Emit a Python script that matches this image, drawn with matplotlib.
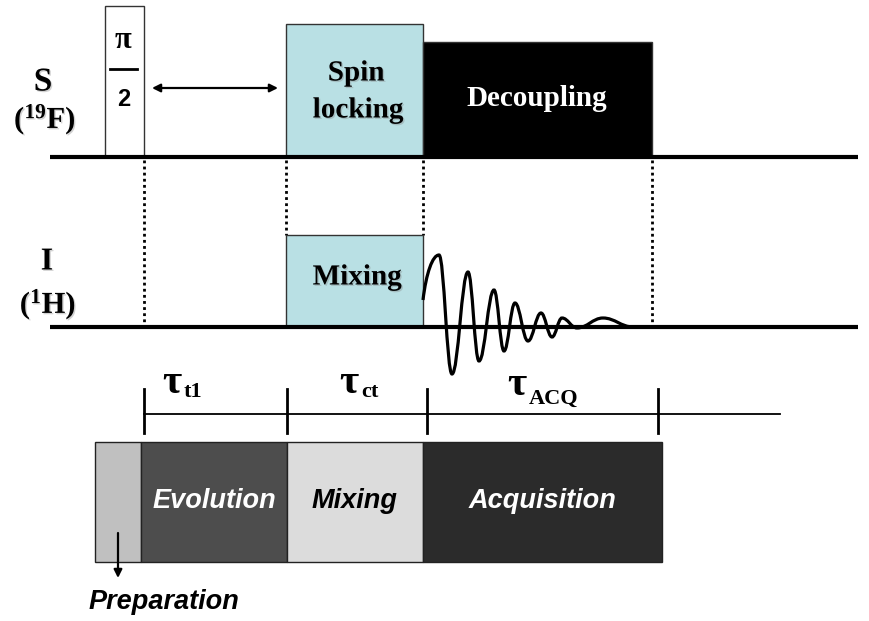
import matplotlib
matplotlib.use("Agg")
import matplotlib.pyplot as plt
import matplotlib.patheffects as pe
from matplotlib.path import Path
from matplotlib.patches import PathPatch

plt.rcParams["mathtext.fontset"] = "custom"
plt.rcParams["mathtext.rm"] = "Liberation Serif:bold"
plt.rcParams["mathtext.bf"] = "Liberation Serif:bold"
plt.rcParams["mathtext.it"] = "Liberation Serif:bold"

# channels
channels = ["S", "I"]
nuclei = ["($^{19}$F)", "($^{1}$H)"]
baseline_y = [157, 327]

# pulses on the S channel (pi/2, spin locking, decoupling)
pulse_start = [105, 286, 423]
pulse_end = [144, 423, 652]
pulse_top = [6, 24, 42]
pulse_color = ["white", "#b9e0e4", "black"]

# mixing pulse on the I channel
mix_start = 286
mix_end = 423
mix_top = 235

# FID extrema (x, y)
fid_x = [423, 439, 452, 468, 479, 494, 504, 515, 528, 541, 552, 562, 577, 603, 633]
fid_y = [300, 255, 374, 272, 361, 290, 351, 303, 341, 313, 337, 318, 328, 318, 327]

# dotted guide lines
guide_x = [144, 286, 423, 652]
guide_bottom = [325, 235, 235, 325]

# time axis
tick_x = [144, 287, 427, 658]
tau_subs = ["t1", "ct", "ACQ"]
tau_x = [162, 339, 507]
tau_base = [393, 393, 395]
sub_x = [184, 361, 529]
sub_base = [397, 397, 404]

# sequence periods
period_edges = [95, 141, 287, 423, 662]
period_names = ["", "Evolution", "Mixing", "Acquisition"]
period_colors = ["#c0c0c0", "#4d4d4d", "#dcdcdc", "#2b2b2b"]
period_text = ["black", "white", "black", "white"]

fig = plt.figure(figsize=(8.7, 6.21), dpi=100)
ax = fig.add_axes([0, 0, 1, 1])
ax.set_xlim(0, 870)
ax.set_ylim(621, 0)
ax.axis("off")

shadow = [pe.withSimplePatchShadow(offset=(1, -1), shadow_rgbFace="gray", alpha=0.35)]
serif = dict(family="Liberation Serif", weight="bold", color="black")
sans_it = dict(family="Liberation Sans", weight="bold", style="italic")

# baselines
for y in baseline_y:
    ax.plot([50, 858], [y, y], color="black", lw=3, solid_capstyle="butt", zorder=3)

# S pulses
for x0, x1, top, c in zip(pulse_start, pulse_end, pulse_top, pulse_color):
    ax.bar(x0, baseline_y[0] - top, width=x1 - x0, bottom=top, align="edge",
           color=c, edgecolor="#333333", lw=1, zorder=2)

# I mixing pulse
ax.bar(mix_start, baseline_y[1] - mix_top, width=mix_end - mix_start, bottom=mix_top,
       align="edge", color=pulse_color[1], edgecolor="#333333", lw=1, zorder=2)

# pulse texts
ax.text(123, 41, "π", ha="center", va="center", fontsize=22, **serif)
ax.plot([110, 137], [69, 69], color="black", lw=2)
ax.text(124, 100, "2", ha="center", va="center", fontsize=17,
        family="Liberation Sans", weight="bold")
ax.annotate("", xy=(278, 88), xytext=(152, 88),
            arrowprops=dict(arrowstyle="<|-|>", color="black", lw=1.6,
                            mutation_scale=12, shrinkA=0, shrinkB=0))
ax.text(356, 73, "Spin", ha="center", va="center", fontsize=21, path_effects=shadow, **serif)
ax.text(358, 110, "locking", ha="center", va="center", fontsize=21, path_effects=shadow, **serif)
ax.text(537, 99, "Decoupling", ha="center", va="center", fontsize=21,
        family="Liberation Serif", weight="bold", color="white")
ax.text(357, 277, "Mixing", ha="center", va="center", fontsize=21, path_effects=shadow, **serif)

# channel labels
ax.text(43, 82, channels[0], ha="center", va="center", fontsize=24, path_effects=shadow, **serif)
ax.text(45, 119, nuclei[0], ha="center", va="center", fontsize=22, path_effects=shadow, **serif)
ax.text(47, 262, channels[1], ha="center", va="center", fontsize=23, path_effects=shadow, **serif)
ax.text(48, 304, nuclei[1], ha="center", va="center", fontsize=22, path_effects=shadow, **serif)

# dotted guides
for x, yb in zip(guide_x, guide_bottom):
    ax.plot([x, x], [baseline_y[0] + 3, yb], color="black", lw=2, ls=(0, (1, 1.2)), zorder=1)

# FID drawn as a smooth bezier through its extrema
verts = [(fid_x[0], fid_y[0])]
codes = [Path.MOVETO]
for i in range(1, len(fid_x)):
    dx = fid_x[i] - fid_x[i - 1]
    if i == 1:
        c1 = (fid_x[0] + 0.2 * dx, fid_y[0] + 0.6 * (fid_y[1] - fid_y[0]))
    else:
        c1 = (fid_x[i - 1] + 0.4 * dx, fid_y[i - 1])
    c2 = (fid_x[i] - 0.4 * dx, fid_y[i])
    verts += [c1, c2, (fid_x[i], fid_y[i])]
    codes += [Path.CURVE4] * 3
ax.add_patch(PathPatch(Path(verts, codes), fill=False, lw=2.3, edgecolor="black", zorder=4))

# time axis
ax.plot([tick_x[0], 780], [414, 414], color="black", lw=1.3)
for x in tick_x:
    ax.plot([x, x], [389, 433], color="black", lw=2)
for i, sub in enumerate(tau_subs):
    ax.text(tau_x[i], tau_base[i], "τ", ha="left", va="baseline", fontsize=30, **serif)
    ax.text(sub_x[i], sub_base[i], sub, ha="left", va="baseline", fontsize=16, **serif)

# period blocks
for i, name in enumerate(period_names):
    x0, x1 = period_edges[i], period_edges[i + 1]
    ax.bar(x0, 120, width=x1 - x0, bottom=442, align="edge",
           color=period_colors[i], edgecolor="#222222", lw=1)
    if name:
        ax.text((x0 + x1) / 2, 501, name, ha="center", va="center", fontsize=19.5,
                color=period_text[i], **sans_it)

ax.annotate("", xy=(118, 578), xytext=(118, 533),
            arrowprops=dict(arrowstyle="-|>", color="black", lw=1.6, mutation_scale=12,
                            shrinkA=0, shrinkB=0))
ax.text(89, 602, "Preparation", ha="left", va="center", fontsize=19.5, color="black", **sans_it)

fig.savefig("out.png", dpi=100)
